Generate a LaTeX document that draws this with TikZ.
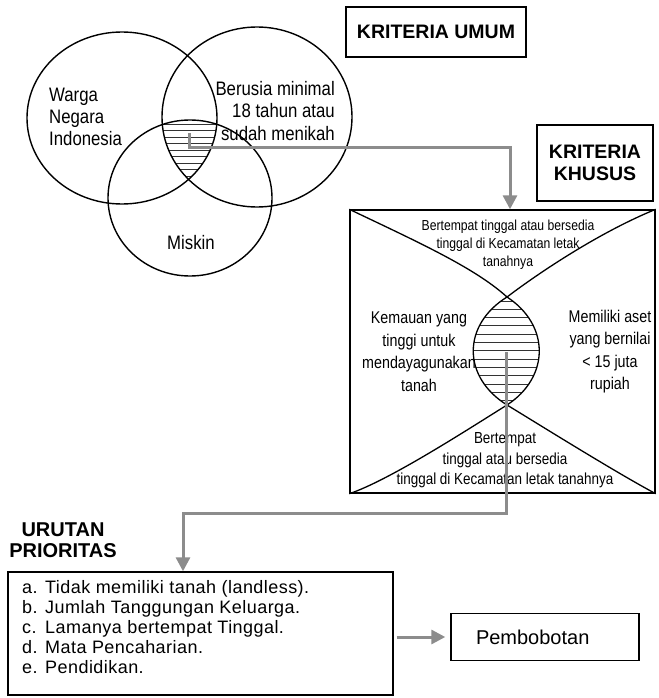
\documentclass[tikz,border=0pt]{standalone}
\usepackage{fontspec}
\setmainfont{Liberation Sans}
\newfontfamily\narrowfont{Liberation Sans}[FakeStretch=0.84]
\newfontfamily\vennfont{Liberation Sans}[FakeStretch=0.86]
\newfontfamily\listfont{Liberation Sans}[LetterSpace=2.5]
\usetikzlibrary{arrows.meta,calc}

\tikzset{
  outline/.style={draw, line width=1.4pt},
  hatchline/.style={black!80, line width=0.9pt},
  flow/.style={draw=black!45, line width=3pt,
    -{Triangle[width=14pt,length=14pt]}},
  headbox/.style={draw, line width=1.3pt, inner sep=0pt,
    font=\bfseries\fontsize{19.5}{21.5}\selectfont, align=center},
  venntext/.style={font=\vennfont\fontsize{19.5}{22.3}\selectfont, inner sep=0pt},
  sidetext/.style={font=\narrowfont\fontsize{17}{22.5}\selectfont, inner sep=0pt, align=center},
  toptext/.style={font=\narrowfont\fontsize{14.5}{18}\selectfont, inner sep=0pt, align=center},
  bottext/.style={font=\narrowfont\fontsize{16}{20.5}\selectfont, inner sep=0pt, align=center},
  listtext/.style={font=\listfont\fontsize{18}{20}\selectfont, inner sep=0pt, align=left},
}

\begin{document}
\begin{tikzpicture}[x=1pt, y=-1pt]
\useasboundingbox (0,0) rectangle (658,698);

% ---------- general criteria: three overlapping sets ----------
\def\setA{(122,118) ellipse [x radius=95, y radius=86]}
\def\setB{(257,117) ellipse [x radius=95, y radius=90]}
\def\setC{(190,198) ellipse [x radius=82, y radius=78]}

\begin{scope}
  \clip \setA; \clip \setB; \clip \setC;
  \foreach \yy in {124,130.5,...,184} \draw[hatchline] (100,\yy) -- (280,\yy);
\end{scope}
\draw[outline] \setA;
\draw[outline] \setB;
\draw[outline] \setC;

\node[venntext, align=left, anchor=west] (wni) at (49,117) {Warga\\Negara\\Indonesia};
\node[venntext, align=right, anchor=east] (usia) at (335,111) {Berusia minimal\\18 tahun atau\\sudah menikah};
\node[venntext] (miskin) at (191,243) {Miskin};
\coordinate (vennCore) at (189,133);

\node[headbox, minimum width=180, minimum height=50] (umum) at (436,32) {KRITERIA UMUM};
\node[headbox, minimum width=116, minimum height=76] (khusus) at (595,163) {KRITERIA\\KHUSUS};

% ---------- special criteria box ----------
\node[outline, minimum width=305, minimum height=283, inner sep=0pt] (crit) at (502.5,351.5) {};
\coordinate (pinchT) at (507,297);
\coordinate (pinchB) at (507,405);

\begin{scope}
  \clip (pinchT) .. controls (462,325) and (462,377) .. (pinchB)
        .. controls (550,377) and (550,325) .. (pinchT) -- cycle;
  \foreach \yy in {301,309.3,...,404} \draw[hatchline] (450,\yy) -- (560,\yy);
\end{scope}

\draw[line width=1.3pt] (crit.north west) .. controls (420,243) and (475,268) .. (pinchT)
  .. controls (540,272) and (600,232) .. (crit.north east);
\draw[line width=1.3pt] (crit.south west) .. controls (390,480) and (470,428) .. (pinchB)
  .. controls (535,422) and (615,472) .. (crit.south east);
\draw[line width=1.3pt] (pinchT) .. controls (462,325) and (462,377) .. (pinchB);
\draw[line width=1.3pt] (pinchT) .. controls (550,325) and (550,377) .. (pinchB);

\node[toptext] (tinggalA) at (508,245) {Bertempat tinggal atau bersedia\\tinggal di Kecamatan letak\\tanahnya};
\node[sidetext] (kemauan) at (419,351.5) {Kemauan yang\\tinggi untuk\\mendayagunakan\\tanah};
\node[sidetext] (aset) at (610,351.5) {Memiliki aset\\yang bernilai\\< 15 juta\\rupiah};
\node[bottext] (tinggalB) at (505,460.5) {Bertempat\\tinggal atau bersedia\\tinggal di Kecamatan letak tanahnya};
\coordinate (lensCore) at (506,352);

% ---------- priority order ----------
\node[font=\bfseries\fontsize{20}{21.5}\selectfont, align=center, inner sep=0pt] (urutan) at (63,540) {URUTAN\\PRIORITAS};

\node[outline, minimum width=385, minimum height=123, inner sep=0pt] (listbox) at (200.5,633.5) {};
\node[listtext, anchor=north west] (items) at (22,580) {%
  \makebox[23pt][l]{a.}Tidak memiliki tanah (landless).\\
  \makebox[23pt][l]{b.}Jumlah Tanggungan Keluarga.\\
  \makebox[23pt][l]{c.}Lamanya bertempat Tinggal.\\
  \makebox[23pt][l]{d.}Mata Pencaharian.\\
  \makebox[23pt][l]{e.}Pendidikan.};

\node[outline, minimum width=188, minimum height=47, inner xsep=25pt, inner ysep=0pt,
  text width=138pt, align=left, font=\fontsize{20}{22}\selectfont] (pemb) at (545,637) {Pembobotan};

% ---------- connectors ----------
\draw[flow] (vennCore) -- ++(0,14) -| ([xshift=7.5pt]crit.north);
\draw[flow] (lensCore) -- (506,513) -| ([xshift=-17.5pt]listbox.north);
\draw[flow, shorten <=3pt, shorten >=5pt] (listbox.east |- pemb.west) -- (pemb.west);
\end{tikzpicture}
\end{document}
